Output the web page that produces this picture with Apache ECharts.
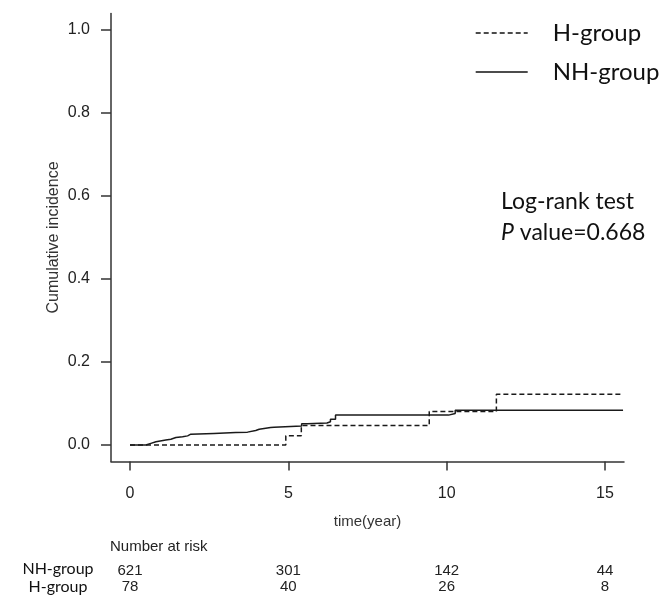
<!DOCTYPE html>
<html>
<head>
<meta charset="utf-8">
<script src="https://cdn.jsdelivr.net/npm/echarts@6/dist/echarts.min.js"></script>
<style>html,body{margin:0;padding:0;background:#fff}#c{width:665px;height:596px}</style>
</head>
<body>
<div id="c"></div>
<script>
// ---- data ----
const xTicks = [0, 5, 10, 15];
const yTicks = [0, 0.2, 0.4, 0.6, 0.8, 1.0];
const nhTimes  = [0, 0.35, 0.5, 0.66, 0.82, 1.13, 1.29, 1.45, 1.66, 1.82, 1.92, 2.65, 3.34, 3.71, 3.97, 4.08, 4.44, 4.55, 5.42, 5.6, 6.22, 6.33, 6.49, 10.06, 10.27, 15.57];
const nhValues = [0, 0, 0.004, 0.008, 0.012, 0.014, 0.018, 0.020, 0.022, 0.026, 0.028, 0.030, 0.031, 0.035, 0.038, 0.042, 0.043, 0.046, 0.051, 0.053, 0.056, 0.062, 0.072, 0.076, 0.084, 0.084];
const hTimes  = [0, 4.92, 5.41, 9.45, 11.57, 15.57];
const hValues = [0, 0.022, 0.047, 0.081, 0.122, 0.122];
const riskTimes = [0, 5, 10, 15];
const riskNH = [621, 301, 142, 44];
const riskH  = [78, 40, 26, 8];
const groupNames = ['H-group', 'NH-group'];

const chart = echarts.init(document.getElementById('c'), null, {renderer: 'canvas'});
const ink = '#1a1a1a';
const axisCol = '#333';

const option = {
  animation: false,
  backgroundColor: '#fff',
  grid: {left: 111, right: 41, top: 13.4, bottom: 134.4, containLabel: false, outerBoundsMode: 'none'},
  legend: {
    data: groupNames,
    orient: 'vertical',
    left: 475, top: 20, padding: 0,
    itemWidth: 52, itemHeight: 12, itemGap: 13,
    itemStyle: {opacity: 0},
    lineStyle: {color: '#111', width: 1.4},
    textStyle: {fontFamily: 'Lato', fontSize: 24, color: '#111', lineHeight: 26, padding: [0, 0, 0, 20]}
  },
  xAxis: {
    type: 'value', min: -0.6, max: 15.6,
    splitLine: {show: false},
    axisLine: {show: true, onZero: false, lineStyle: {color: axisCol, width: 1.5}},
    axisTick: {show: true, inside: false, length: 9, customValues: xTicks, lineStyle: {color: axisCol, width: 1.5}},
    axisLabel: {customValues: xTicks, margin: 24, fontFamily: 'Liberation Sans', fontSize: 16, color: '#222'}
  },
  yAxis: {
    type: 'value', min: -0.04, max: 1.04,
    splitLine: {show: false},
    name: 'Cumulative incidence', nameLocation: 'middle', nameGap: 49, nameRotate: 90, nameMoveOverlap: false,
    nameTextStyle: {fontFamily: 'Liberation Sans', fontSize: 16, color: '#333'},
    axisLine: {show: true, onZero: false, lineStyle: {color: axisCol, width: 1.5}},
    axisTick: {show: true, inside: false, length: 10, customValues: yTicks, lineStyle: {color: axisCol, width: 1.5}},
    axisLabel: {customValues: yTicks, margin: 21, fontFamily: 'Liberation Sans', fontSize: 16, color: '#222',
      formatter: v => v.toFixed(1)}
  },
  series: [
    {
      name: groupNames[0], type: 'line', step: 'end', symbol: 'none',
      data: hTimes.map((t, i) => [t, hValues[i]]),
      lineStyle: {color: ink, width: 1.5, type: [5, 3]}, itemStyle: {color: ink}
    },
    {
      name: groupNames[1], type: 'line', step: 'end', symbol: 'none',
      data: nhTimes.map((t, i) => [t, nhValues[i]]),
      lineStyle: {color: ink, width: 1.5, type: 'solid'}, itemStyle: {color: ink}
    }
  ]
};
chart.setOption(option);

// annotations & number-at-risk table positioned via axis scale
const font = 'Liberation Sans';
const g = [];
const xc = t => chart.convertToPixel({xAxisIndex: 0}, t);
const plotMid = (xc(-0.6) + xc(15.6)) / 2;
g.push({type: 'text', x: plotMid, y: 522, style: {text: 'time(year)', font: '15px "' + font + '"', fill: '#333', align: 'center', verticalAlign: 'middle'}});
g.push({type: 'text', x: 110, y: 547, style: {text: 'Number at risk', font: '15px "' + font + '"', fill: '#222', align: 'left', verticalAlign: 'middle'}});
g.push({type: 'text', x: 58, y: 569, style: {text: 'NH-group', font: '16px Lato', fill: '#111', align: 'center', verticalAlign: 'middle'}});
g.push({type: 'text', x: 58, y: 587, style: {text: 'H-group', font: '16px Lato', fill: '#111', align: 'center', verticalAlign: 'middle'}});
riskTimes.forEach((t, i) => {
  const px = xc(t);
  g.push({type: 'text', x: px, y: 571, style: {text: String(riskNH[i]), font: '15px "' + font + '"', fill: '#222', align: 'center', verticalAlign: 'middle'}});
  g.push({type: 'text', x: px, y: 587, style: {text: String(riskH[i]), font: '15px "' + font + '"', fill: '#222', align: 'center', verticalAlign: 'middle'}});
});
g.push({type: 'text', x: 501, y: 202, style: {text: 'Log-rank test', font: '23px Lato', fill: '#111', align: 'left', verticalAlign: 'middle'}});
g.push({type: 'text', x: 501, y: 233, style: {
  text: '{i|P} value=0.668', align: 'left', verticalAlign: 'middle',
  rich: {i: {fontFamily: 'Lato', fontSize: 23, fontStyle: 'italic', fill: '#111', color: '#111'}},
  font: '23px Lato', fill: '#111'
}});
chart.setOption({graphic: g});
</script>
</body>
</html>
